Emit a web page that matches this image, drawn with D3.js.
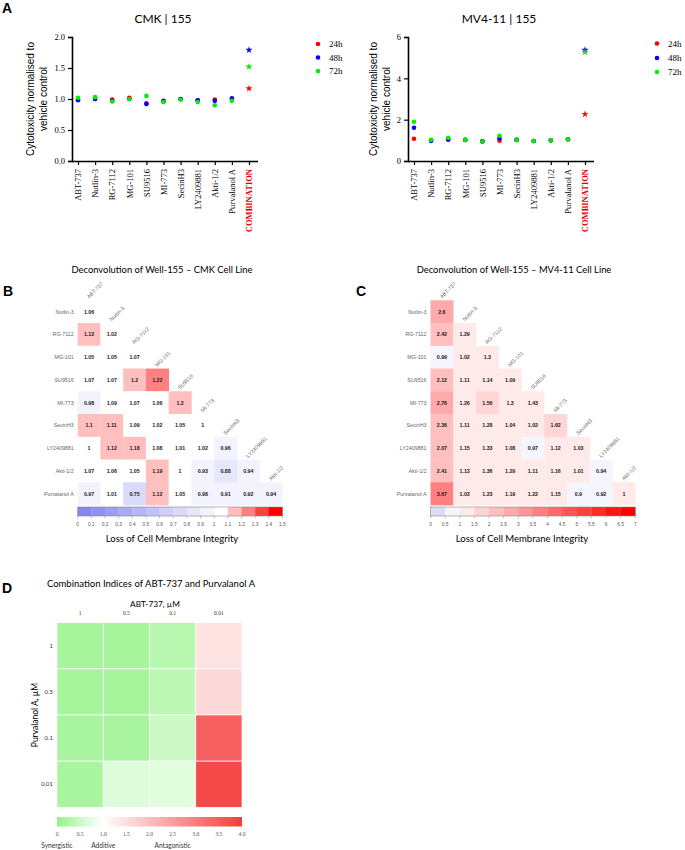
<!DOCTYPE html>
<html><head><meta charset="utf-8">
<script src="https://cdn.jsdelivr.net/npm/d3@7"></script>
<style>body{margin:0;background:#fff}svg{display:block}</style>
</head><body>
<svg id="c" width="685" height="850"></svg>
<script>
// ---------- DATA ----------
const drugs = ["ABT-737","Nutlin-3","RG-7112","MG-101","SU9516","MI-773","SecinH3","LY2409881","Akti-1/2","Purvalanol A"];
const scatterCats = drugs.concat(["COMBINATION"]);
const timeLabels = ["24h","48h","72h"];
const cmk24 = [0.99,1.00,0.99,1.02,0.93,0.96,1.00,0.98,0.99,1.00,1.17];
const cmk48 = [0.98,1.00,0.97,1.00,0.92,0.97,1.00,0.98,0.97,1.01,1.79];
const cmk72 = [1.02,1.03,0.96,1.00,1.05,0.95,0.99,0.95,0.90,0.97,1.52];
const mv24  = [1.08,1.00,1.03,1.02,0.95,0.98,1.02,0.97,1.00,1.05,2.27];
const mv48  = [1.61,0.97,1.05,1.02,0.95,1.10,1.02,0.97,1.00,1.05,5.37];
const mv72  = [1.90,1.02,1.12,1.02,0.94,1.22,1.02,0.97,1.00,1.05,5.27];
const cmkTicks = [0,0.5,1,1.5,2];
const mvTicks = [0,2,4,6];

const heatCols = drugs.slice(0,9);
const heatRows = drugs.slice(1);
const cmkMatrix = [
  [1.06],
  [1.12,1.02],
  [1.05,1.05,1.07],
  [1.07,1.07,1.2,1.22],
  [0.98,1.09,1.07,1.06,1.2],
  [1.1,1.11,1.09,1.02,1.05,1],
  [1,1.12,1.18,1.08,1.01,1.02,0.96],
  [1.07,1.06,1.05,1.19,1,0.93,0.88,0.94],
  [0.97,1.01,0.75,1.12,1.05,0.98,0.91,0.92,0.94]
];
const mvMatrix = [
  [2.6],
  [2.42,1.29],
  [0.99,1.02,1.3],
  [2.12,1.11,1.14,1.09],
  [2.76,1.26,1.56,1.3,1.43],
  [2.36,1.11,1.28,1.04,1.02,1.62],
  [2.07,1.15,1.33,1.08,0.97,1.12,1.03],
  [2.41,1.13,1.36,1.29,1.11,1.16,1.01,0.94],
  [3.67,1.03,1.23,1.19,1.22,1.15,0.9,0.92,1]
];
const cmkBarTicks = ["0","0.1","0.2","0.3","0.4","0.5","0.6","0.7","0.8","0.9","1","1.1","1.2","1.3","1.4","1.5"];
const mvBarTicks = ["0","0.5","1","1.5","2","2.5","3","3.5","4","4.5","5","5.5","6","6.5","7"];

const ciCols = ["1","0.5","0.1","0.01"];
const ciRows = ["1","0.5","0.1","0.01"];
const ciValues = [
  [0.15,0.15,0.32,1.45],
  [0.15,0.15,0.36,1.58],
  [0.18,0.18,0.52,3.45],
  [0.18,0.68,0.72,3.82]
];
const ciTicks = ["0","0.5","1.0","1.5","2.0","2.5","3.0","3.5","4.0"];
const ciZones = ["Synergistic","Additive","Antagonistic"];

// ---------- DRAW ----------
const svg = d3.select("#c");
const SANS = "Lato, 'Open Sans', sans-serif";
const ARIAL = "'Liberation Sans', Arial, sans-serif";
const SERIF = "'Liberation Serif', 'Times New Roman', serif";
const tColors = ["#ff0000","#0000ff","#00ee00"];

function panelLabel(t,x,y){
  svg.append("text").attr("x",x).attr("y",y).text(t)
    .attr("font-family",ARIAL).attr("font-weight","bold").attr("font-size",14);
}
panelLabel("A",2,13); panelLabel("B",3,296); panelLabel("C",356,296); panelLabel("D",2,593);

function scatter(opt){
  const g = svg.append("g");
  const x = d3.scalePoint().domain(scatterCats).range([opt.x0+6, opt.x0+177]);
  const y = d3.scaleLinear().domain([0, opt.ymax]).range([161, 37]);
  g.append("text").attr("x",opt.tx).attr("y",22.5).attr("text-anchor","middle")
    .attr("font-family",SANS).attr("font-size",12).text(opt.title);
  const ya = g.append("g").attr("transform",`translate(${opt.x0},0)`)
    .call(d3.axisLeft(y).tickValues(opt.ticks).tickSize(4).tickFormat(opt.fmt));
  ya.select(".domain").attr("stroke-width",1.6);
  ya.selectAll(".tick line").attr("stroke-width",1.2);
  ya.selectAll("text").attr("font-family",SERIF).attr("font-size",8.5).attr("fill","#000");
  const xa = g.append("g").attr("transform","translate(0,161)")
    .call(d3.axisBottom(x).tickSize(4).tickSizeOuter(0));
  xa.select(".domain").attr("d",`M${opt.x0},0.5H${opt.x0+186}`).attr("stroke-width",1.6);
  xa.selectAll(".tick line").attr("stroke-width",1.2);
  xa.selectAll("text").attr("font-family",SERIF).attr("font-size",8.5).attr("fill","#000")
    .attr("text-anchor","end").attr("transform","rotate(-90)").attr("x",-8).attr("y",0).attr("dy","0.32em")
    .filter(d=>d==="COMBINATION").attr("fill","#e00000").attr("font-weight","bold");
  const lab = g.append("text").attr("font-family",ARIAL).attr("font-size",10)
    .attr("text-anchor","middle").attr("transform",`translate(${opt.lx},99) rotate(-90)`);
  lab.append("tspan").attr("x",0).attr("y",0).text("Cytotoxicity normalised to");
  lab.append("tspan").attr("x",0).attr("y",13).text("vehicle control");
  opt.series.forEach((s,i)=>{
    s.forEach((v,j)=>{
      const cx = x(scatterCats[j]), cy = y(v);
      if(scatterCats[j]==="COMBINATION"){
        g.append("path").attr("d",d3.symbol(d3.symbolStar,16)())
          .attr("transform",`translate(${cx},${cy})`).attr("fill",tColors[i]);
      } else {
        g.append("circle").attr("cx",cx).attr("cy",cy).attr("r",2.3).attr("fill",tColors[i]);
      }
    });
  });
  timeLabels.forEach((t,i)=>{
    const ly = opt.legY[i];
    g.append("circle").attr("cx",opt.legX).attr("cy",ly).attr("r",2.3).attr("fill",tColors[i]);
    g.append("text").attr("x",opt.legX+11).attr("y",ly).attr("dy","0.35em")
      .attr("font-family",SERIF).attr("font-size",9).text(t);
  });
}
scatter({x0:72, ymax:2, ticks:cmkTicks, fmt:d3.format(".1f"), title:"CMK | 155", tx:163, lx:34,
  series:[cmk24,cmk48,cmk72], legX:318, legY:[44,57.5,71]});
scatter({x0:408, ymax:6, ticks:mvTicks, fmt:d3.format("d"), title:"MV4-11 | 155", tx:499, lx:377,
  series:[mv24,mv48,mv72], legX:657, legY:[43.5,58,72]});

// ---------- triangular heatmaps ----------
function tri(opt){
  const g = svg.append("g");
  const cw = 22.75;
  const x = d3.scaleBand().domain(heatCols).range([opt.x0, opt.x0+cw*9]);
  const y = d3.scaleBand().domain(heatRows).range([300.3, 300.3+cw*9]);
  g.append("text").attr("x",opt.tx).attr("y",273).attr("text-anchor","middle")
    .attr("font-family",SANS).attr("font-size",9.4).text(opt.title);
  opt.matrix.forEach((row,i)=>{
    row.forEach((v,j)=>{
      const xx = x(heatCols[j]), yy = y(heatRows[i]);
      g.append("rect").attr("x",xx).attr("y",yy).attr("width",x.bandwidth()+0.3).attr("height",y.bandwidth()+0.3)
        .attr("fill",opt.palette[d3.bisectRight(opt.thresholds,v)]);
      g.append("text").attr("x",xx+cw/2).attr("y",yy+cw/2).attr("dy","0.35em").attr("text-anchor","middle")
        .attr("font-family",ARIAL).attr("font-weight","bold").attr("font-size",5.3).attr("fill","#222").text(String(v));
    });
  });
  heatRows.forEach(r=>{
    g.append("text").attr("x",opt.x0-4).attr("y",y(r)+cw/2).attr("dy","0.35em").attr("text-anchor","end")
      .attr("font-family",ARIAL).attr("font-size",5.3).attr("fill","#666").text(r);
  });
  heatCols.forEach((c,j)=>{
    const xx = x(c)+cw/2, yy = y(heatRows[j])-1.5;
    g.append("text").attr("transform",`translate(${xx},${yy}) rotate(-45)`)
      .attr("font-family",ARIAL).attr("font-size",5.3).attr("fill","#666").text(c);
  });
  const n = opt.palette.length;
  const bx = d3.scaleLinear().domain([0,n]).range([opt.x0, opt.x0+cw*9]);
  opt.palette.forEach((col,i)=>{
    g.append("rect").attr("x",bx(i)).attr("y",507).attr("width",bx(i+1)-bx(i)+0.2).attr("height",9).attr("fill",col);
  });
  g.append("rect").attr("x",opt.x0).attr("y",507).attr("width",cw*9).attr("height",9)
    .attr("fill","none").attr("stroke","#888").attr("stroke-width",0.6);
  const tx = d3.scalePoint().domain(opt.ticks).range([opt.x0, opt.x0+cw*9]);
  opt.ticks.forEach(t=>{
    g.append("line").attr("x1",tx(t)).attr("x2",tx(t)).attr("y1",516).attr("y2",518.5).attr("stroke","#888").attr("stroke-width",0.5);
    g.append("text").attr("x",tx(t)).attr("y",525.5).attr("text-anchor","middle")
      .attr("font-family",ARIAL).attr("font-size",4.8).attr("fill","#555").text(t);
  });
  g.append("text").attr("x",opt.lx).attr("y",542).attr("text-anchor","middle")
    .attr("font-family",SANS).attr("font-size",9.5).text("Loss of Cell Membrane Integrity");
}
const blueW = d3.interpolateRgb("#8585f0","#ffffff");
const whiteR = d3.interpolateRgb("#ffffff","#ff0000");
const palB = d3.range(15).map(i=> i<10 ? blueW(i/10) : i===10 ? "#ffffff" : whiteR((i-10)/4));
const thrB = [0.1,0.2,0.3,0.4,0.5,0.6,0.7,0.8,0.9,1.0,1.095,1.205,1.3,1.4];
const palC = d3.range(14).map(i=> i===0 ? "#dcdcf6" : i===1 ? "#f5f5fd" : whiteR((i-1)/12));
const thrC = d3.range(1,14).map(i=>i*0.5);
tri({x0:77.7, tx:162, lx:172, title:"Deconvolution of Well-155 \u2013 CMK Cell Line", matrix:cmkMatrix,
  palette:palB, thresholds:thrB, ticks:cmkBarTicks});
tri({x0:430.5, tx:514, lx:522, title:"Deconvolution of Well-155 \u2013 MV4-11 Cell Line", matrix:mvMatrix,
  palette:palC, thresholds:thrC, ticks:mvBarTicks});

// ---------- Panel D ----------
(function(){
  const g = svg.append("g");
  const x = d3.scaleBand().domain(ciCols).range([57,242]);
  const y = d3.scaleBand().domain(ciRows).range([622.7,807.3]);
  const col = d3.scaleLinear().domain([0,1,4]).range(["#96f38a","#ffffff","#f43c3c"]);
  g.append("text").attr("x",151).attr("y",587).attr("text-anchor","middle")
    .attr("font-family",SANS).attr("font-size",9.5).text("Combination Indices of ABT-737 and Purvalanol A");
  g.append("text").attr("x",155).attr("y",607).attr("text-anchor","middle")
    .attr("font-family",SANS).attr("font-size",8.3).text("ABT-737, \u00b5M");
  ciCols.forEach(c=>{
    g.append("text").attr("x",x(c)+x.bandwidth()/2).attr("y",614.5).attr("text-anchor","middle")
      .attr("font-family",SERIF).attr("font-size",5.5).attr("fill","#333").text(c);
  });
  ciRows.forEach(r=>{
    g.append("text").attr("x",53).attr("y",y(r)+y.bandwidth()/2).attr("dy","0.35em").attr("text-anchor","end")
      .attr("font-family",SANS).attr("font-size",6).attr("fill","#333").text(r);
  });
  g.append("text").attr("transform","translate(38,715) rotate(-90)").attr("text-anchor","middle")
    .attr("font-family",SANS).attr("font-size",8.5).text("Purvalanol A, \u00b5M");
  ciValues.forEach((row,i)=>row.forEach((v,j)=>{
    g.append("rect").attr("x",x(ciCols[j])).attr("y",y(ciRows[i])).attr("width",x.bandwidth()).attr("height",y.bandwidth())
      .attr("fill",col(v)).attr("stroke","#ffffff").attr("stroke-width",0.7);
  }));
  const defs = svg.append("defs");
  const lg = defs.append("linearGradient").attr("id","ciGrad");
  [0,0.125,0.25,0.5,0.75,1].forEach(f=>{
    lg.append("stop").attr("offset",f).attr("stop-color",col(f*4));
  });
  g.append("rect").attr("x",57).attr("y",817).attr("width",185).attr("height",9.5).attr("fill","url(#ciGrad)");
  const cx = d3.scaleLinear().domain([0,4]).range([57,242]);
  ciTicks.forEach(t=>{
    g.append("text").attr("x",cx(+t)).attr("y",835.5).attr("text-anchor","middle")
      .attr("font-family",SERIF).attr("font-size",5.5).attr("fill","#555").text(t);
  });
  const zonePos = [0,1,2.5];
  ciZones.forEach((z,i)=>{
    g.append("text").attr("x",cx(zonePos[i])).attr("y",847.5).attr("text-anchor","middle")
      .attr("font-family",SANS).attr("font-size",6.6).attr("fill","#333").text(z);
  });
})();
</script>
</body></html>
